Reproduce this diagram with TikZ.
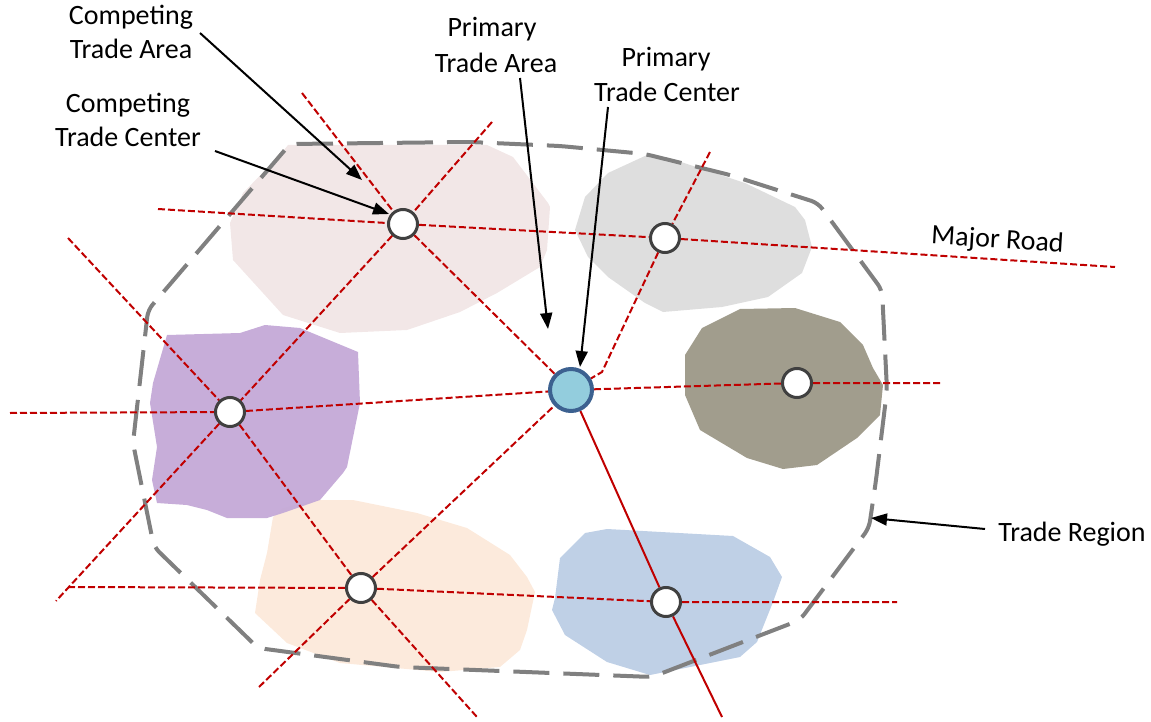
\documentclass[tikz,border=0pt]{standalone}
\usepackage{fontspec}
\setmainfont{Carlito}
\usetikzlibrary{arrows.meta}
\definecolor{roadred}{HTML}{C00000}
\definecolor{regiongray}{HTML}{808080}
\definecolor{ringgray}{HTML}{404040}
\definecolor{pinkarea}{HTML}{F2E7E7}
\definecolor{grayarea}{HTML}{DEDEDE}
\definecolor{darkarea}{HTML}{A19D8D}
\definecolor{purplearea}{HTML}{C4A9D7}
\definecolor{peacharea}{HTML}{FCEADC}
\definecolor{bluearea}{HTML}{BFD0E6}
\definecolor{primfill}{HTML}{93CDDD}
\definecolor{primring}{HTML}{3C6190}
\pgfdeclarelayer{blobs}
\pgfdeclarelayer{lines}
\pgfsetlayers{blobs,lines,main}
\tikzset{
  road/.style={draw=roadred, line width=2pt, dash pattern=on 7pt off 3pt},
  solidroad/.style={draw=roadred, line width=2pt},
  region/.style={draw=regiongray, line width=4pt, dash pattern=on 36pt off 14pt, rounded corners=7pt},
  ctr/.style={circle, draw=ringgray, line width=3pt, fill=white, minimum size=29pt, inner sep=0pt},
  prim/.style={circle, draw=primring, line width=4pt, fill=primfill, minimum size=42pt, inner sep=0pt},
  lbl/.style={anchor=base, inner sep=0pt, font=\fontsize{28}{34}\selectfont},
  pointer/.style={draw=black, line width=2pt, -{Triangle[length=16pt,width=12pt]}},
}
\begin{document}
\begin{tikzpicture}[x=1pt,y=-1pt]
\useasboundingbox (0,0) rectangle (1151,722);

% centres
\node[prim] (P) at (571,390) {};
\node[ctr] (A) at (403,224) {};
\node[ctr] (G) at (665,238) {};
\node[ctr] (D) at (797,383) {};
\node[ctr] (U) at (230,412) {};
\node[ctr] (H) at (361,588) {};
\node[ctr] (B) at (666,602) {};

% free ends
\coordinate (r1a) at (158,209);  \coordinate (r1b) at (1115,267);
\coordinate (r2a) at (302,93);
\coordinate (r3a) at (492,122);  \coordinate (r3b) at (56,601);
\coordinate (r4a) at (68,238);   \coordinate (r4b) at (477,717);
\coordinate (r5a) at (259,687);
\coordinate (r6a) at (68,587);   \coordinate (r6b) at (897,602);
\coordinate (r7a) at (10,413);   \coordinate (r7b) at (942,383);
\coordinate (r8a) at (710,152);  \coordinate (r8k) at (602,372);
\coordinate (r9b) at (722,717);

\begin{pgfonlayer}{blobs}
\fill[pinkarea] (280,155) -- (288,145) -- (487,145) -- (513,157) -- (548,203) -- (550,207) -- (547,250) -- (540,267) -- (497,293) -- (460,312) -- (407,330) -- (340,333) -- (283,315) -- (233,260) -- (230,223) -- (243,193) -- cycle;
\fill[grayarea] (647,155) -- (675,160) -- (745,183) -- (795,207) -- (805,220) -- (812,247) -- (802,273) -- (768,297) -- (722,307) -- (663,312) -- (645,303) -- (608,277) -- (588,257) -- (575,230) -- (585,197) -- (608,173) -- cycle;
\fill[darkarea] (740,309) -- (795,308) -- (840,322) -- (863,345) -- (873,368) -- (883,385) -- (880,415) -- (857,438) -- (817,465) -- (783,469) -- (747,458) -- (700,430) -- (685,395) -- (685,355) -- (702,328) -- cycle;
\fill[peacharea] (273,517) -- (283,508) -- (317,500) -- (353,500) -- (417,513) -- (467,528) -- (510,555) -- (527,577) -- (535,592) -- (527,630) -- (520,650) -- (500,667) -- (440,672) -- (340,663) -- (287,643) -- (255,613) -- (260,580) -- (267,553) -- cycle;
\fill[purplearea, opacity=0.95] (167,335) -- (240,333) -- (265,325) -- (300,328) -- (358,352) -- (360,403) -- (347,467) -- (343,473) -- (320,500) -- (283,513) -- (267,518) -- (227,518) -- (207,510) -- (187,505) -- (157,503) -- (152,480) -- (157,447) -- (150,403) -- (153,383) -- cycle;
\fill[bluearea] (585,533) -- (607,529) -- (733,536) -- (770,557) -- (782,577) -- (773,602) -- (757,642) -- (740,657) -- (650,675) -- (607,662) -- (565,635) -- (552,610) -- (555,598) -- (560,558) -- cycle;
\end{pgfonlayer}

\begin{pgfonlayer}{lines}
\draw[region] (290,144) -- (470,142) -- (560,146) -- (645,154) -- (730,175) -- (818,203) -- (882,290) -- (887,390) -- (876,480) -- (869,528) -- (800,620) -- (652,677) -- (400,667) -- (258,648) -- (154,547) -- (133,443) -- (148,310) -- cycle;
\draw[road] (r1a) -- (A) -- (G) -- (r1b);
\draw[road] (r2a) -- (A) -- (P);
\draw[road] (r3a) -- (A) -- (U) -- (r3b);
\draw[road] (r4a) -- (U) -- (H) -- (r4b);
\draw[road] (r5a) -- (H) -- (P);
\draw[road] (r6a) -- (H) -- (B) -- (r6b);
\draw[road] (r7a) -- (U) -- (P) -- (D) -- (r7b);
\draw[road] (r8a) -- (G) -- (r8k) -- (P);
\draw[solidroad] (P) -- (B) -- (r9b);
\end{pgfonlayer}

% labels
\node[lbl] (cta1) at (131,25) {Competing};
\node[lbl] (cta2) at (131,59) {Trade Area};
\node[lbl] (ctc1) at (128,113) {Competing};
\node[lbl] (ctc2) at (128,147) {Trade Center};
\node[lbl] (pta1) at (492,37) {Primary};
\node[lbl] (pta2) at (496,73) {Trade Area};
\node[lbl] (ptc1) at (666,67) {Primary};
\node[lbl] (ptc2) at (667,102) {Trade Center};
\node[lbl, rotate=-3.5] (mr) at (997,248) {Major Road};
\node[lbl] (tr) at (1072,541) {Trade Region};

% pointer arrows
\coordinate (ctaS) at (200,33);  \coordinate (ctaT) at (362,180);
\coordinate (ctcS) at (215,151); \coordinate (ctcT) at (389,214);
\coordinate (ptaS) at (520,78);  \coordinate (ptaT) at (548,329);
\coordinate (ptcS) at (608,107); \coordinate (ptcT) at (580,367);
\coordinate (trS) at (985,529);  \coordinate (trT) at (871,518);
\draw[pointer] (ctaS) -- (ctaT);
\draw[pointer] (ctcS) -- (ctcT);
\draw[pointer] (ptaS) -- (ptaT);
\draw[pointer] (ptcS) -- (ptcT);
\draw[pointer] (trS) -- (trT);
\end{tikzpicture}
\end{document}
